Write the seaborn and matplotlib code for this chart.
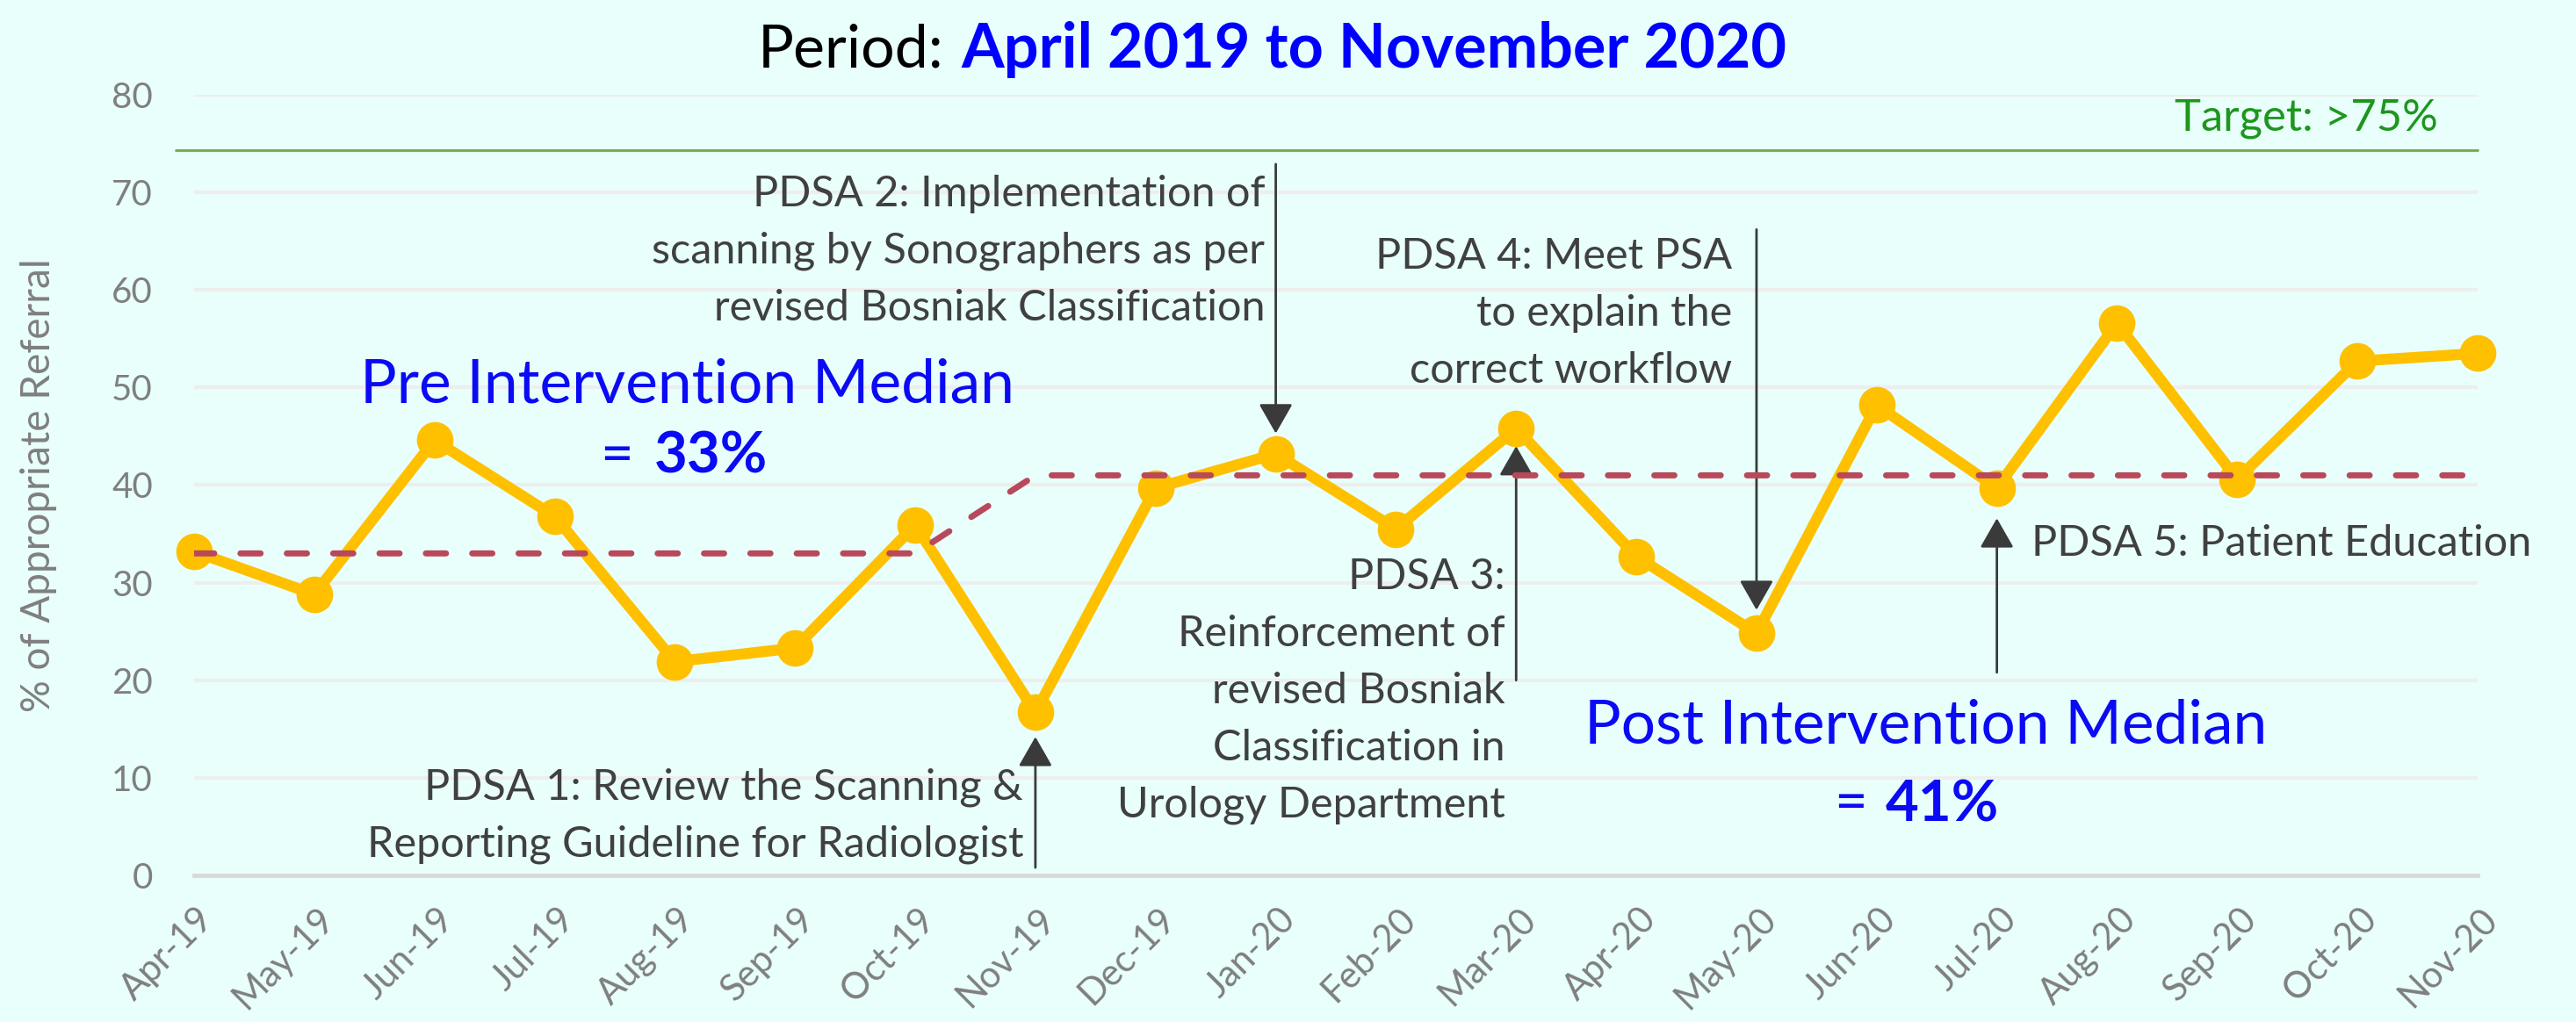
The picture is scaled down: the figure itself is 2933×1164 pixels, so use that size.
import matplotlib
matplotlib.use('Agg')
import matplotlib.pyplot as plt
import matplotlib.transforms as mtransforms
import pandas as pd
import seaborn as sns

months = ['Apr-19', 'May-19', 'Jun-19', 'Jul-19', 'Aug-19', 'Sep-19', 'Oct-19',
          'Nov-19', 'Dec-19', 'Jan-20', 'Feb-20', 'Mar-20', 'Apr-20', 'May-20',
          'Jun-20', 'Jul-20', 'Aug-20', 'Sep-20', 'Oct-20', 'Nov-20']
appropriate_pct = [33.2, 28.8, 44.6, 36.8, 21.9, 23.3, 35.9, 16.7, 39.7, 43.2,
                   35.5, 45.8, 32.7, 24.8, 48.2, 39.7, 56.6, 40.6, 52.7, 53.5]
median_pct = [33, 33, 33, 33, 33, 33, 33, 41, 41, 41,
              41, 41, 41, 41, 41, 41, 41, 41, 41, 41]
target_pct = 74.3
y_ticks = [0, 10, 20, 30, 40, 50, 60, 70, 80]

pdsa1 = 'PDSA 1: Review the Scanning &\nReporting Guideline for Radiologist'
pdsa2 = 'PDSA 2: Implementation of\nscanning by Sonographers as per\nrevised Bosniak Classification'
pdsa3 = 'PDSA 3:\nReinforcement of\nrevised Bosniak\nClassification in\nUrology Department'
pdsa4 = 'PDSA 4: Meet PSA\nto explain the\ncorrect workflow'
pdsa5 = 'PDSA 5: Patient Education'

BG = '#E8FFFB'
GREY = '#7F7F7F'
DARK = '#404040'
BLUE = '#0A0AF5'

sns.set_style('white')
plt.rcParams['font.family'] = ['Lato', 'DejaVu Sans']

df = pd.DataFrame({'idx': range(len(months)), 'month': months,
                   'pct': appropriate_pct, 'median': median_pct})

fig = plt.figure(figsize=(29.33, 11.64), dpi=100)
fig.patch.set_facecolor(BG)
ax = fig.add_axes([0.07535, 0.14347, 0.88646, 0.76375])
ax.set_facecolor(BG)

sns.lineplot(data=df, x='idx', y='pct', ax=ax, color='#FFC000', lw=9,
             marker='o', markersize=30, markeredgewidth=0, zorder=3, clip_on=False)
sns.lineplot(data=df, x='idx', y='median', ax=ax, color='#B8485A', lw=5,
             linestyle=(0, (3.3, 4.3)), dash_capstyle='round', zorder=4)

# target line sticks out a little past the axis on the left
ax.plot([-0.15, len(months) - 1], [target_pct, target_pct], color='#6AAB45',
        lw=2, clip_on=False, zorder=2)

ax.set_xlim(0, len(months) - 1)
ax.set_ylim(0, 80)
ax.set_yticks(y_ticks)
ax.set_xticks(range(len(months)))
ax.set_xticklabels(months, rotation=45, ha='right', va='center', rotation_mode='anchor')
ax.yaxis.grid(True, color='#EEEEEE', lw=3)
ax.set_axisbelow(True)
for s in ['left', 'right', 'top']:
    ax.spines[s].set_visible(False)
ax.spines['bottom'].set_color('#D9D9D9')
ax.spines['bottom'].set_linewidth(3.5)
ax.tick_params(axis='x', direction='inout', length=19, width=2.4, color='#D9D9D9',
               labelsize=30, labelcolor=GREY, pad=22)
ax.tick_params(axis='y', length=0, labelsize=29, labelcolor=GREY, pad=34)
shift = mtransforms.ScaledTranslation(0.16, 0, fig.dpi_scale_trans)
for lab in ax.get_xticklabels():
    lab.set_transform(lab.get_transform() + shift)

ax.set_xlabel('')
ax.set_ylabel('% of Appropriate Referral', fontsize=33, color=GREY)
ax.yaxis.set_label_coords(-0.06, 0.5)

# PDSA notes and arrows
note = dict(fontsize=35, color=DARK, linespacing=1.58, zorder=5)
arrow = dict(arrowstyle='-|>,head_length=0.7,head_width=0.4', color='#3A3A3A',
             lw=2, mutation_scale=30, shrinkA=0, shrinkB=0)
ax.text(6.9, 6.1, pdsa1, ha='right', va='center', multialignment='right', **note)
ax.annotate('', xy=(7, 14.2), xytext=(7, 0.8), arrowprops=arrow)
ax.text(8.91, 64.0, pdsa2, ha='right', va='center', multialignment='right', **note)
ax.annotate('', xy=(9, 45.3), xytext=(9, 72.9), arrowprops=arrow)
ax.text(10.91, 18.9, pdsa3, ha='right', va='center', multialignment='right', **note)
ax.annotate('', xy=(11, 44.0), xytext=(11, 20.0), arrowprops=arrow)
ax.text(12.8, 57.6, pdsa4, ha='right', va='center', multialignment='right', **note)
ax.annotate('', xy=(13, 27.2), xytext=(13, 66.2), arrowprops=arrow)
ax.text(15.29, 34.0, pdsa5, ha='left', va='center', **note)
ax.annotate('', xy=(15, 36.6), xytext=(15, 20.8), arrowprops=arrow)

# median labels
ax.text(4.1, 50.2, 'Pre Intervention Median', ha='center', va='center',
        fontsize=50, color=BLUE)
ax.text(3.65, 42.9, '=', ha='right', va='center', fontsize=47, color=BLUE)
ax.text(3.83, 42.9, '33%', ha='left', va='center', fontsize=47, color=BLUE,
        fontweight='bold')
ax.text(14.41, 15.3, 'Post Intervention Median', ha='center', va='center',
        fontsize=50, color=BLUE)
ax.text(13.92, 7.2, '=', ha='right', va='center', fontsize=47, color=BLUE)
ax.text(14.07, 7.2, '41%', ha='left', va='center', fontsize=47, color=BLUE,
        fontweight='bold')

ax.text(18.67, 77.6, 'Target: >75%', ha='right', va='center', fontsize=36.5,
        color='#1E961E')

fig.text(0.3665, 0.934, 'Period:', ha='right', va='baseline', fontsize=49, color='black')
fig.text(0.3733, 0.934, 'April 2019 to November 2020', ha='left', va='baseline',
         fontsize=50.5, color='#0000FF', fontweight='bold')

fig.savefig('out.png', dpi=100, facecolor=BG)
